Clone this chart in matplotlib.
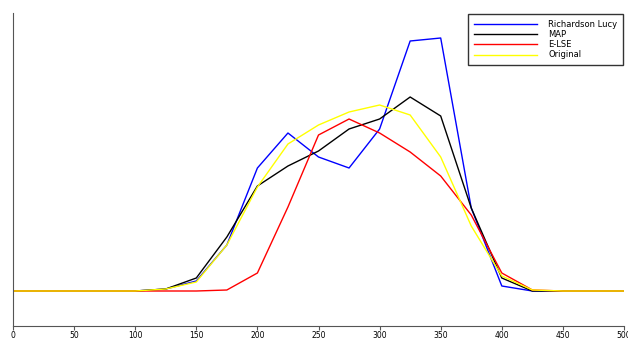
import matplotlib
matplotlib.use("Agg")
import matplotlib.pyplot as plt

x = [0, 25, 50, 75, 100, 125, 150, 175, 200, 225, 250,
     275, 300, 325, 350, 375, 400, 425, 450, 475, 500]

richardson_lucy = [0, 0, 0, 0, 0, 2, 10, 46, 123, 158, 134,
                   123, 162, 250, 253, 83, 5, 0, 0, 0, 0]
map_est = [0, 0, 0, 0, 0, 2, 13, 54, 105, 125, 140,
           162, 172, 194, 175, 83, 13, 0, 0, 0, 0]
e_lse = [0, 0, 0, 0, 0, 0, 0, 1, 18, 84, 156,
         172, 158, 139, 115, 76, 18, 1, 0, 0, 0]
original = [0, 0, 0, 0, 0, 2, 9, 46, 104, 147, 166,
            179, 186, 176, 134, 65, 15, 1, 0, 0, 0]

x_ticks = [0, 50, 100, 150, 200, 250, 300, 350, 400, 450, 500]

fig = plt.figure(figsize=(6.28, 3.39), dpi=100)
ax = fig.add_axes([13 / 628, 13 / 339, 611 / 628, 313 / 339])

ax.plot(x, richardson_lucy, color="blue", linewidth=1.0, label="Richardson Lucy")
ax.plot(x, map_est, color="black", linewidth=1.0, label="MAP")
ax.plot(x, e_lse, color="red", linewidth=1.0, label="E-LSE")
ax.plot(x, original, color="yellow", linewidth=1.0, label="Original")

ax.set_xlim(0, 500)
ax.set_ylim(-35, 278)

ax.spines["top"].set_visible(False)
ax.spines["right"].set_visible(False)
ax.spines["left"].set_color("#555555")
ax.spines["bottom"].set_color("#555555")

ax.set_xticks(x_ticks)
ax.set_xticklabels([str(t) for t in x_ticks])
ax.set_yticks([])
ax.tick_params(axis="x", length=3, width=0.8, color="#555555",
               labelsize=5.5, pad=0.5)

leg = ax.legend(loc="upper right", fontsize=6, frameon=True, fancybox=False,
                handlelength=7.5, handletextpad=1.4, borderpad=0.7,
                labelspacing=0.15, borderaxespad=0.1,
                bbox_to_anchor=(1.0, 1.0))
leg.get_frame().set_edgecolor("black")
leg.get_frame().set_linewidth(1.0)

fig.savefig("out.png", dpi=100)
